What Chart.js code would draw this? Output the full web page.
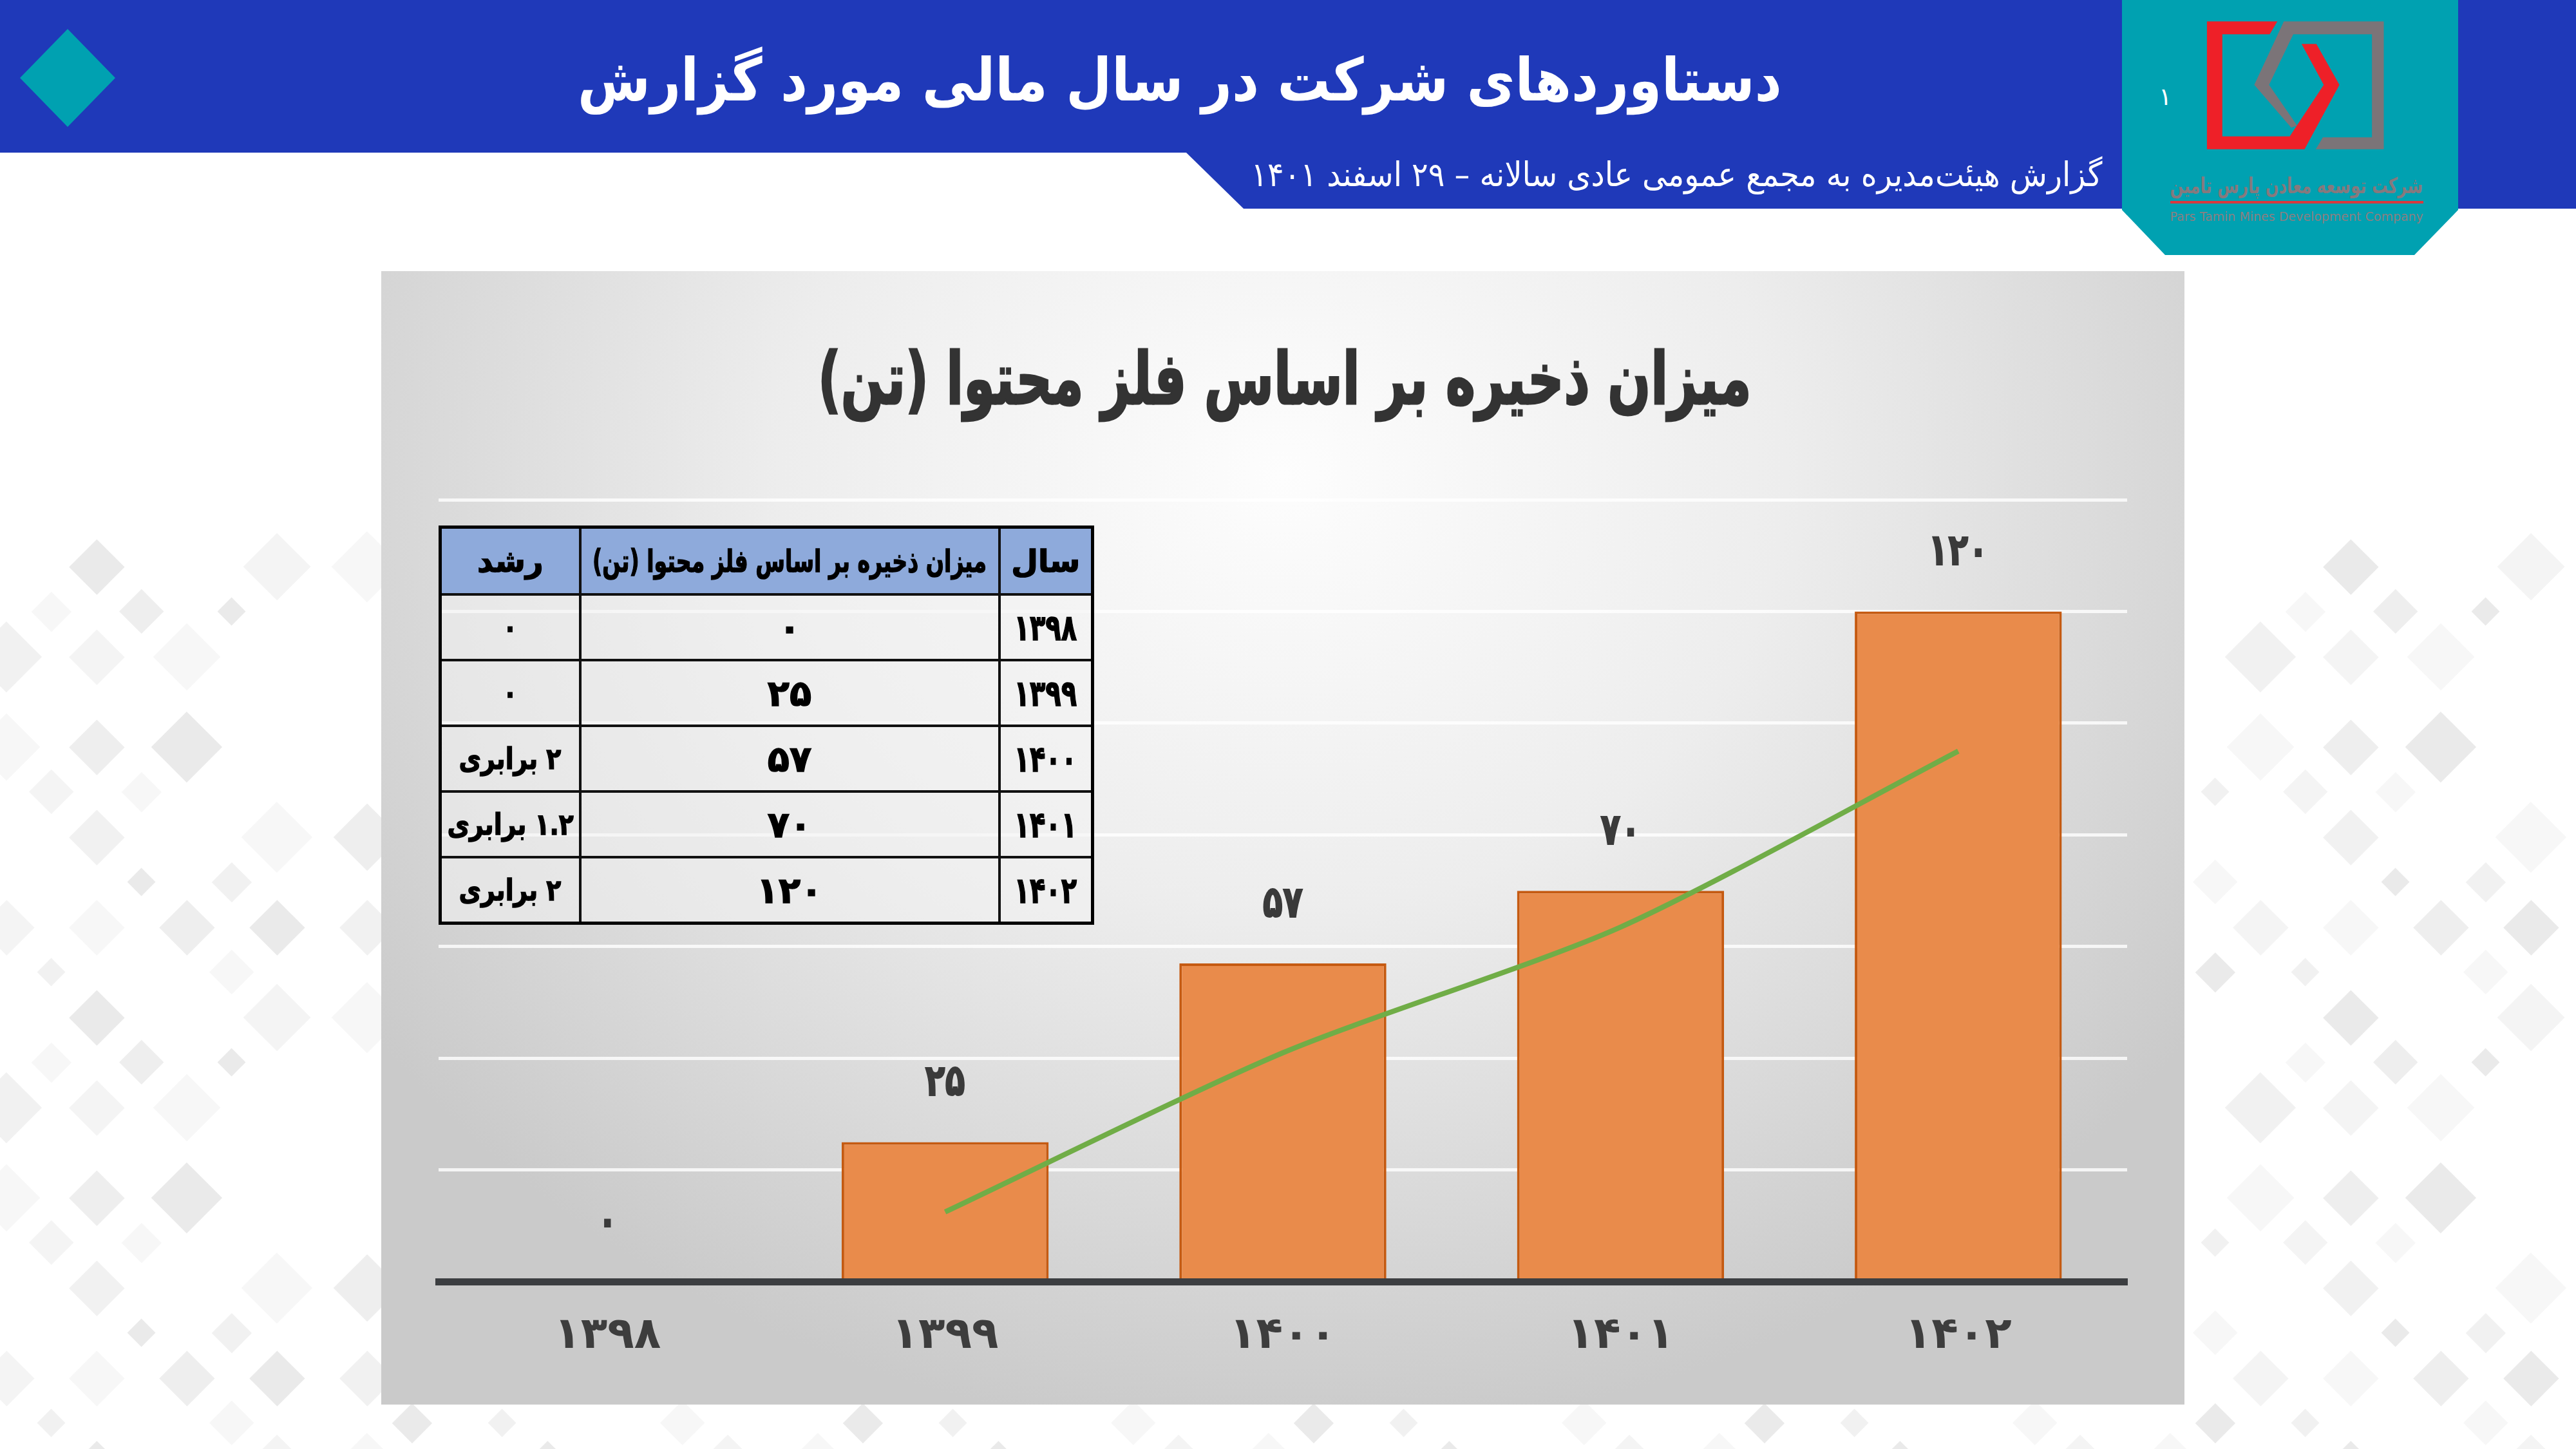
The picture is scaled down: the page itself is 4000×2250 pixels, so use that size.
<!DOCTYPE html>
<html lang="fa">
<head>
<meta charset="utf-8">
<title>میزان ذخیره بر اساس فلز محتوا</title>
<script src="https://cdn.jsdelivr.net/npm/chart.js@4.4.1/dist/chart.umd.min.js"></script>
<style>
  html, body { margin: 0; padding: 0; }
  body {
    width: 4000px; height: 2250px; position: relative; overflow: hidden;
    background: #fff; font-family: 'DejaVu Sans', sans-serif;
  }
  .abs { position: absolute; }
  .fit { display: inline-block; white-space: nowrap; transform-origin: center center; flex: none; }
  .row { position: absolute; display: flex; justify-content: center; align-items: center; white-space: nowrap; }

  #band { left: 0; top: 0; width: 4000px; height: 237px; background: #1f39b9; }
  #band2 {
    left: 1842px; top: 237px; width: 2158px; height: 87px; background: #1f39b9;
    clip-path: polygon(0 0, 100% 0, 100% 100%, 89px 100%);
  }
  #logoPanel {
    left: 3295px; top: 0; width: 522px; height: 396px; background: #00a1b1;
    clip-path: polygon(0 0, 100% 0, 100% 326px, 454px 100%, 67px 100%, 0 326px);
  }
  #leftDiamond {
    left: 31px; top: 45px; width: 148px; height: 152px; background: #00a1b1;
    clip-path: polygon(50% 0, 100% 50%, 50% 100%, 0 50%);
  }

  #panel {
    left: 592px; top: 421px; width: 2800px; height: 1760px;
    background: radial-gradient(ellipse 62% 85% at 50% 18%, #fdfdfd 0%, #ededed 45%, #dadada 75%, #cacaca 100%);
  }
  #chart { position: absolute; left: 592px; top: 421px; }

  #tbl {
    position: absolute; left: 681px; top: 816px; width: 1013px; height: 613px;
    border-collapse: collapse; direction: rtl; table-layout: fixed;
    border: 5px solid #000;
  }
  #tbl td, #tbl th {
    border: 4px solid #111; padding: 0; color: #000; font-weight: bold;
    -webkit-text-stroke: 1.5px #000;
  }
  #tbl th { background: #8eaadb; height: 100px; font-size: 48px; }
  #tbl td { background: rgba(242, 242, 242, 0.55); height: 98px; font-size: 56px; }
  #tbl td.g { font-size: 46px; }
  .cell { display: flex; justify-content: center; align-items: center; width: 100%; height: 100%; white-space: nowrap; }
</style>
</head>
<body>
<div id="bg" class="abs" style="left:0;top:0;width:4000px;height:2250px;"></div>

<div id="band" class="abs"></div>
<div id="band2" class="abs"></div>
<div id="logoPanel" class="abs"></div>
<div id="leftDiamond" class="abs"></div>

<svg class="abs" style="left:3280px;top:0;" width="720" height="420" viewBox="0 0 1568 1260" preserveAspectRatio="none">
  <polygon fill="#7b7478" points="580,100 918,100 918,695 688,695 712,640 878,640 878,160 612,160 530,395 625,585 605,595 480,395"/>
  <polygon fill="#ee2028" points="320,100 558,100 532,160 372,160 372,635 600,635 715,395 640,205 690,205 768,395 650,695 320,695"/>
</svg>
<div class="row" style="left:3066px;top:266px;width:1000px;height:44px;color:#86797d;font-size:34px;font-weight:bold;direction:rtl;"><span class="fit" id="coFa">شرکت توسعه معادن پارس تامین</span></div>
<div class="abs" style="left:3370px;top:312px;width:393px;height:4px;background:#d9383f;"></div>
<div class="row" style="left:3066px;top:324px;width:1000px;height:24px;color:#8a7f82;font-size:20px;"><span class="fit" id="coEn">Pars Tamin Mines Development Company</span></div>
<div class="abs" style="left:3352px;top:128px;color:#fff;font-size:38px;">۱</div>

<div class="row" style="left:332px;top:64px;width:3000px;height:120px;color:#fff;font-size:92px;font-weight:bold;direction:rtl;"><span class="fit" id="pageTitle">دستاوردهای شرکت در سال مالی مورد گزارش</span></div>
<div class="row" style="left:1103px;top:238px;width:3000px;height:66px;color:#fff;font-size:52px;direction:rtl;"><span class="fit" id="subTitle">گزارش هیئت‌مدیره به مجمع عمومی عادی سالانه – ۲۹ اسفند ۱۴۰۱</span></div>

<div id="panel" class="abs"></div>
<canvas id="chart" width="2800" height="1760"></canvas>

<div class="row" style="left:495px;top:518px;width:3000px;height:140px;color:#333;font-size:112px;font-weight:bold;direction:rtl;-webkit-text-stroke:3px #333;"><span class="fit" id="chartTitle">میزان ذخیره بر اساس فلز محتوا (تن)</span></div>

<table id="tbl"></table>

<script>
// Data
const years = ['۱۳۹۸', '۱۳۹۹', '۱۴۰۰', '۱۴۰۱', '۱۴۰۲'];
const reserves = [0, 25, 57, 70, 120];
const movingAvg = [null, 12.5, 41, 63.5, 95]; // trendline (2-period)
const growth = ['۰', '۰', '۲ برابری', '۱.۲ برابری', '۲ برابری'];
const tableHeads = ['سال', 'میزان ذخیره بر اساس فلز محتوا (تن)', 'رشد'];
const yMax = 140;
const yStep = 20;

// Util: Persian digits
function faNum(n) {
  return String(n).replace(/\d/g, (d) => '۰۱۲۳۴۵۶۷۸۹'[d]);
}

// Util: squeeze text to a width
function fitText(el, w) {
  const nat = el.offsetWidth;
  if (nat > 0) el.style.transform = `scaleX(${w / nat})`;
}

// Background diamonds
const bg = document.getElementById('bg');
const shades = ['#eeeeee', '#f4f4f4', '#eaeaea', '#f7f7f7', '#f1f1f1'];
const sizes = [0, 62, 105, 44, 86, 0, 110, 70, 0, 0];
for (let r = 0; r < 22; r++) {
  for (let c = 0; c < 58; c++) {
    if ((r + c) % 2) continue;
    const x = c * 70 + 10;
    const y = 880 + r * 70;
    const side = x < 575 || x > 3410;
    const bottom = y > 2200;
    if (!side && !bottom) continue;
    const h = (c * 37 + r * 53 + c * r) % 10;
    const s = sizes[h];
    if (!s) continue;
    const d = document.createElement('div');
    const a = s / Math.SQRT2;
    d.className = 'abs';
    d.style.cssText = `left:${x - a / 2}px;top:${y - a / 2}px;width:${a}px;height:${a}px;` +
      `background:${shades[(c + 2 * r) % shades.length]};transform:rotate(45deg);`;
    bg.appendChild(d);
  }
}

// Table
const tbl = document.getElementById('tbl');
let html = '<colgroup><col style="width:145px"><col style="width:651px"><col style="width:217px"></colgroup>';
html += '<tr>' + tableHeads.map((t, i) => `<th><div class="cell"><span class="fit" id="th${i}">${t}</span></div></th>`).join('') + '</tr>';
years.forEach((y, i) => {
  html += `<tr><td><div class="cell"><span class="fit yr">${y}</span></div></td>` +
    `<td><div class="cell"><span class="fit">${faNum(reserves[i])}</span></div></td>` +
    `<td class="g"><div class="cell"><span class="fit gr">${growth[i]}</span></div></td></tr>`;
});
tbl.innerHTML = html;

fitText(document.getElementById('th1'), 612);
document.querySelectorAll('#tbl .yr').forEach((el) => fitText(el, 98));
document.querySelectorAll('#tbl .gr').forEach((el) => {
  el.style.transform = 'scaleX(0.82)';
});
fitText(document.getElementById('pageTitle'), 1870);
fitText(document.getElementById('subTitle'), 1322);
fitText(document.getElementById('chartTitle'), 1450);
fitText(document.getElementById('coFa'), 393);
fitText(document.getElementById('coEn'), 393);

// Value labels above bars
const barLabels = {
  id: 'barLabels',
  afterDatasetsDraw(chart) {
    const ctx = chart.ctx;
    const meta = chart.getDatasetMeta(0);
    ctx.save();
    ctx.font = 'bold 68px "DejaVu Sans"';
    ctx.fillStyle = '#3a3a3a';
    ctx.strokeStyle = '#3a3a3a';
    ctx.lineWidth = 2;
    ctx.textAlign = 'center';
    ctx.textBaseline = 'middle';
    meta.data.forEach((bar, i) => {
      ctx.save();
      ctx.translate(bar.x, bar.y - 90);
      ctx.scale(0.75, 1);
      ctx.fillText(faNum(reserves[i]), 0, 0);
      ctx.strokeText(faNum(reserves[i]), 0, 0);
      ctx.restore();
    });
    ctx.restore();
  }
};

new Chart(document.getElementById('chart').getContext('2d'), {
  type: 'bar',
  data: {
    labels: years,
    datasets: [
      {
        type: 'bar',
        data: reserves,
        backgroundColor: '#e98b4b',
        borderColor: '#c55a11',
        borderWidth: 4,
        barPercentage: 0.613,
        categoryPercentage: 1,
        order: 1
      },
      {
        type: 'line',
        data: movingAvg,
        borderColor: '#70ad47',
        borderWidth: 8,
        pointRadius: 0,
        tension: 0.25,
        order: 0
      }
    ]
  },
  options: {
    responsive: false,
    animation: false,
    devicePixelRatio: 1,
    layout: { padding: { left: 89, right: 89, top: 355, bottom: 21 } },
    plugins: { legend: { display: false }, tooltip: { enabled: false } },
    scales: {
      x: {
        grid: { display: false, drawTicks: false },
        border: { display: true, color: '#3c3e41', width: 11, z: 1 },
        ticks: { color: '#3d3d3d', padding: 44, font: { family: 'DejaVu Sans', size: 68, weight: 'bold' } }
      },
      y: {
        min: 0,
        max: yMax,
        ticks: { display: false, stepSize: yStep },
        grid: { color: 'rgba(255,255,255,0.8)', lineWidth: 5, drawTicks: false },
        border: { display: false }
      }
    }
  },
  plugins: [barLabels]
});
</script>
</body>
</html>
